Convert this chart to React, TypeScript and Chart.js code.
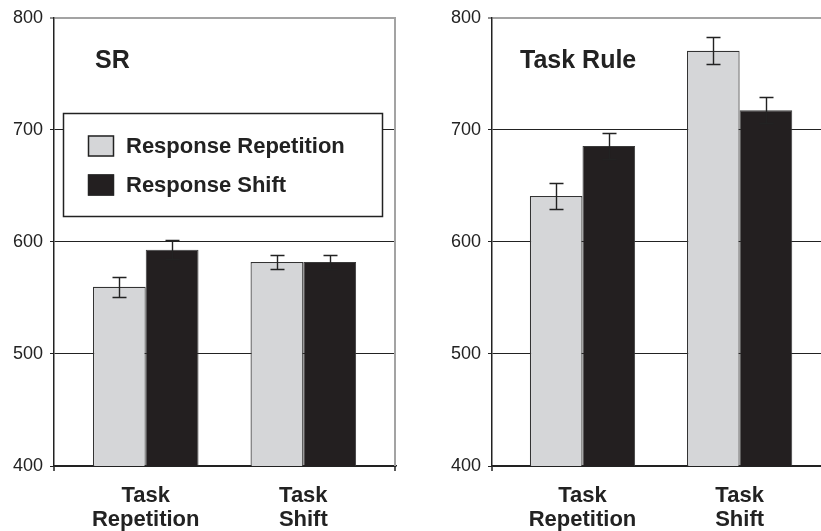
import React, { useEffect, useRef } from "react";
import { Chart, registerables } from "chart.js";

Chart.register(...registerables);

// ---- data ----
const categories: string[][] = [["Task", "Repetition"], ["Task", "Shift"]];
const seriesNames = ["Response Repetition", "Response Shift"];
const panelTitles = ["SR", "Task Rule"];
const srRepetition = [560, 582];
const srShift = [593, 582];
const srRepetitionErr = [9, 6];
const srShiftErr = [8.5, 6];
const ruleRepetition = [641, 770.5];
const ruleShift = [685.5, 717.5];
const ruleRepetitionErr = [11.5, 12];
const ruleShiftErr = [11.5, 11.5];
const yTicks = [400, 500, 600, 700, 800];

// ---- style ----
const GRAY = "#d5d6d8";
const BLACK = "#231f20";
const INK = "#222222";
const FRAME = "#a3a3a3";
const FONT = "'Liberation Sans', Arial, Helvetica, sans-serif";

type PanelProps = {
  canvasLeft: number;
  width: number;
  height: number;
  axisWidth: number;
  padRight: number;
  xMin: number;
  xMax: number;
  title: string;
  titleX: number;
  titleY: number;
  repetition: number[];
  shift: number[];
  repErr: number[];
  shiftErr: number[];
  showLegend: boolean;
  showRightBorder: boolean;
};

function Panel(p: PanelProps) {
  const ref = useRef<HTMLCanvasElement | null>(null);

  useEffect(() => {
    if (!ref.current) return;

    const decor = {
      id: "decor",
      afterDatasetsDraw(chart: any) {
        const ctx = chart.ctx as CanvasRenderingContext2D;
        const ys = chart.scales.y;
        const a = chart.chartArea;
        ctx.save();
        // error bars
        ctx.strokeStyle = INK;
        ctx.lineWidth = 1.4;
        chart.data.datasets.forEach((ds: any, di: number) => {
          const meta = chart.getDatasetMeta(di);
          meta.data.forEach((bar: any, j: number) => {
            const v = ds.data[j].y;
            const e = ds.errors[j];
            const top = Math.round(ys.getPixelForValue(v + e)) + 0.5;
            const bot = Math.round(ys.getPixelForValue(v - e)) + 0.5;
            const x = Math.round(bar.x) + 0.5;
            const cap = 7;
            ctx.beginPath();
            ctx.moveTo(x, top);
            ctx.lineTo(x, bot);
            ctx.moveTo(x - cap, top);
            ctx.lineTo(x + cap, top);
            ctx.moveTo(x - cap, bot);
            ctx.lineTo(x + cap, bot);
            ctx.stroke();
          });
        });
        // right frame
        if (p.showRightBorder) {
          ctx.strokeStyle = FRAME;
          ctx.lineWidth = 2;
          ctx.beginPath();
          ctx.moveTo(a.right - 1, a.top);
          ctx.lineTo(a.right - 1, a.bottom);
          ctx.stroke();
        }
        // bottom end ticks
        ctx.strokeStyle = INK;
        ctx.lineWidth = 1.5;
        ctx.beginPath();
        ctx.moveTo(a.left, a.bottom);
        ctx.lineTo(a.left, a.bottom + 5);
        if (p.showRightBorder) {
          ctx.moveTo(a.right - 1, a.bottom);
          ctx.lineTo(a.right - 1, a.bottom + 5);
        }
        ctx.stroke();
        // legend
        if (p.showLegend) {
          const bx = 63, by = 113, bw = 319, bh = 103;
          ctx.fillStyle = "#ffffff";
          ctx.fillRect(bx, by, bw, bh);
          ctx.strokeStyle = INK;
          ctx.lineWidth = 1.5;
          ctx.strokeRect(bx + 0.5, by + 0.5, bw, bh);
          const rows = [146, 185];
          chart.data.datasets.forEach((ds: any, di: number) => {
            const cy = rows[di];
            ctx.fillStyle = ds.backgroundColor;
            ctx.fillRect(88, cy - 10.5, 26, 21);
            ctx.strokeStyle = INK;
            ctx.lineWidth = 1.5;
            ctx.strokeRect(88.5, cy - 10, 25, 20);
            ctx.fillStyle = INK;
            ctx.font = `bold 22px ${FONT}`;
            ctx.textBaseline = "middle";
            ctx.textAlign = "left";
            ctx.fillText(ds.label, 126, cy + 1);
          });
        }
        // title
        ctx.fillStyle = INK;
        ctx.font = `bold 25px ${FONT}`;
        ctx.textBaseline = "alphabetic";
        ctx.textAlign = "left";
        ctx.fillText(p.title, p.titleX, p.titleY);
        ctx.restore();
      },
    };

    const chart = new Chart(ref.current, {
      type: "bar",
      data: {
        datasets: [
          {
            label: seriesNames[0],
            data: categories.map((_, i) => ({ x: i, y: p.repetition[i] })),
            errors: p.repErr,
            backgroundColor: GRAY,
            borderColor: "#333333",
            borderWidth: 1.2,
          } as any,
          {
            label: seriesNames[1],
            data: categories.map((_, i) => ({ x: i, y: p.shift[i] })),
            errors: p.shiftErr,
            backgroundColor: BLACK,
            borderColor: "#3a3a3a",
            borderWidth: 1,
          } as any,
        ],
      },
      options: {
        animation: false,
        responsive: false,
        devicePixelRatio: 1,
        categoryPercentage: 0.67,
        barPercentage: 1,
        layout: { padding: { top: 15, right: p.padRight, bottom: 0, left: 0 } },
        plugins: { legend: { display: false }, tooltip: { enabled: false }, title: { display: false } },
        scales: {
          x: {
            type: "linear",
            min: p.xMin,
            max: p.xMax,
            offset: false,
            bounds: "data",
            grid: { display: false, drawTicks: false, offset: false },
            border: { display: true, color: INK, width: 1.5 },
            afterBuildTicks: (scale: any) => {
              scale.ticks = categories.map((_, i) => ({ value: i }));
            },
            afterFit: (scale: any) => {
              scale.height = 65;
            },
            ticks: {
              autoSkip: false,
              maxRotation: 0,
              minRotation: 0,
              padding: 18,
              color: INK,
              font: { family: FONT, size: 22, weight: "bold", lineHeight: 1.1 },
              callback: (v: any) => categories[Math.round(Number(v))] ?? "",
            },
          },
          y: {
            type: "linear",
            min: yTicks[0],
            max: yTicks[yTicks.length - 1],
            afterBuildTicks: (scale: any) => {
              scale.ticks = yTicks.map((v) => ({ value: v }));
            },
            afterFit: (scale: any) => {
              scale.width = p.axisWidth;
            },
            grid: {
              color: (c: any) => (c.tick && c.tick.value === 800 ? FRAME : INK),
              lineWidth: (c: any) => (c.tick && c.tick.value === 800 ? 2 : 1),
              tickColor: INK,
              tickLength: 4,
              tickWidth: 1,
            },
            border: { display: true, color: INK, width: 1.5 },
            ticks: {
              padding: 7,
              color: INK,
              font: { family: FONT, size: 18 },
              callback: (v: any) => String(v),
            },
          },
        },
      } as any,
      plugins: [decor],
    });

    return () => chart.destroy();
  }, []);

  return (
    <canvas
      ref={ref}
      width={p.width}
      height={p.height}
      style={{ position: "absolute", left: p.canvasLeft, top: 0, width: p.width, height: p.height }}
    />
  );
}

export default function App() {
  return (
    <div
      style={{
        position: "fixed",
        left: 0,
        top: 0,
        width: 821,
        height: 531,
        overflow: "hidden",
        background: "#ffffff",
      }}
    >
      <Panel
        canvasLeft={0}
        width={410}
        height={531}
        axisWidth={54}
        padRight={14}
        xMin={-0.582}
        xMax={1.588}
        title={panelTitles[0]}
        titleX={95}
        titleY={68}
        repetition={srRepetition}
        shift={srShift}
        repErr={srRepetitionErr}
        shiftErr={srShiftErr}
        showLegend={true}
        showRightBorder={true}
      />
      <Panel
        canvasLeft={410}
        width={411}
        height={531}
        axisWidth={82}
        padRight={0}
        xMin={-0.576}
        xMax={1.518}
        title={panelTitles[1]}
        titleX={110}
        titleY={68}
        repetition={ruleRepetition}
        shift={ruleShift}
        repErr={ruleRepetitionErr}
        shiftErr={ruleShiftErr}
        showLegend={false}
        showRightBorder={false}
      />
    </div>
  );
}
